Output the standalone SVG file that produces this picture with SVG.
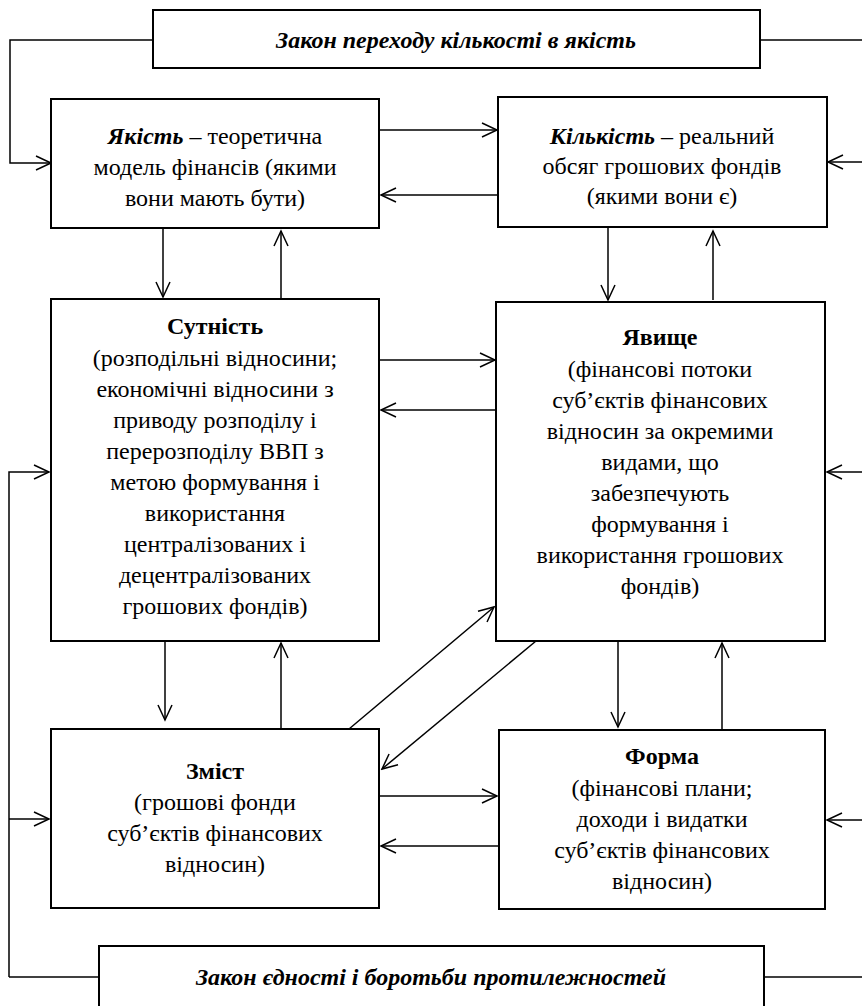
<svg xmlns="http://www.w3.org/2000/svg" width="862" height="1006" viewBox="0 0 862 1006">
<style>
.box{fill:#fff;stroke:#000;stroke-width:2}
.c{fill:none;stroke:#000;stroke-width:1.5}
</style>
<defs>
<marker id="a" markerUnits="userSpaceOnUse" markerWidth="18" markerHeight="18" viewBox="-16 -9 18 18" refX="0" refY="0" orient="auto">
<path d="M-15,-7 L0,0 L-15,7" fill="none" stroke="#000" stroke-width="1.5"/>
</marker>
</defs>
<g id="connectors">
<path class="c" d="M153,40 H10 V163 H51" marker-end="url(#a)"/>
<path class="c" d="M760,40 H862"/>
<path class="c" d="M862,162 H828" marker-end="url(#a)"/>
<path class="c" d="M380,130 H497" marker-end="url(#a)"/>
<path class="c" d="M498,195 H381" marker-end="url(#a)"/>
<path class="c" d="M163,228 V297" marker-end="url(#a)"/>
<path class="c" d="M281,298 V231" marker-end="url(#a)"/>
<path class="c" d="M608,227 V300" marker-end="url(#a)"/>
<path class="c" d="M713,300 V231" marker-end="url(#a)"/>
<path class="c" d="M380,360 H495" marker-end="url(#a)"/>
<path class="c" d="M496,410 H381" marker-end="url(#a)"/>
<path class="c" d="M9,977 V472 H49" marker-end="url(#a)"/>
<path class="c" d="M9,819 H49" marker-end="url(#a)"/>
<path class="c" d="M862,472 H827" marker-end="url(#a)"/>
<path class="c" d="M862,820 H827" marker-end="url(#a)"/>
<path class="c" d="M9,977 H99"/>
<path class="c" d="M764,977 H862"/>
<path class="c" d="M165,641 V720" marker-end="url(#a)"/>
<path class="c" d="M281,728 V643" marker-end="url(#a)"/>
<path class="c" d="M618,641 V727" marker-end="url(#a)"/>
<path class="c" d="M722,730 V643" marker-end="url(#a)"/>
<path class="c" d="M349,729 L494,607" marker-end="url(#a)"/>
<path class="c" d="M536,641 L382,769" marker-end="url(#a)"/>
<path class="c" d="M380,796 H497" marker-end="url(#a)"/>
<path class="c" d="M499,846 H381" marker-end="url(#a)"/>
</g>
<g font-family="Times New Roman, Liberation Serif, DejaVu Serif, serif" font-size="24" text-anchor="middle" fill="#000">
<g id="law1">
<rect class="box" x="153" y="10" width="607" height="58"/>
<text x="456" y="48" font-weight="bold" font-style="italic">Закон переходу кількості в якість</text>
</g>
<g id="yakist">
<rect class="box" x="51" y="99" width="328" height="129"/>
<text x="215" y="144"><tspan font-weight="bold" font-style="italic">Якість</tspan> – теоретична</text>
<text x="215" y="175">модель фінансів (якими</text>
<text x="215" y="206">вони мають бути)</text>
</g>
<g id="kilkist">
<rect class="box" x="498" y="97" width="329" height="130"/>
<text x="662" y="144"><tspan font-weight="bold" font-style="italic">Кількість</tspan> – реальний</text>
<text x="662" y="174">обсяг грошових фондів</text>
<text x="662" y="204">(якими вони є)</text>
</g>
<g id="sutnist">
<rect class="box" x="51" y="299" width="328" height="342"/>
<text x="215" y="334" font-weight="bold">Сутність</text>
<text x="215" y="366">(розподільні відносини;</text>
<text x="215" y="397">економічні відносини з</text>
<text x="215" y="428">приводу розподілу і</text>
<text x="215" y="459">перерозподілу ВВП з</text>
<text x="215" y="490">метою формування і</text>
<text x="215" y="521">використання</text>
<text x="215" y="552">централізованих і</text>
<text x="215" y="583">децентралізованих</text>
<text x="215" y="614">грошових фондів)</text>
</g>
<g id="yavyshche">
<rect class="box" x="496" y="302" width="329" height="339"/>
<text x="660" y="345" font-weight="bold">Явище</text>
<text x="660" y="377">(фінансові потоки</text>
<text x="660" y="408">суб’єктів фінансових</text>
<text x="660" y="439">відносин за окремими</text>
<text x="660" y="470">видами, що</text>
<text x="660" y="501">забезпечують</text>
<text x="660" y="532">формування і</text>
<text x="660" y="563">використання грошових</text>
<text x="660" y="594">фондів)</text>
</g>
<g id="zmist">
<rect class="box" x="51" y="729" width="328" height="179"/>
<text x="215" y="779" font-weight="bold">Зміст</text>
<text x="215" y="810">(грошові фонди</text>
<text x="215" y="841">суб’єктів фінансових</text>
<text x="215" y="872">відносин)</text>
</g>
<g id="forma">
<rect class="box" x="499" y="730" width="326" height="179"/>
<text x="662" y="764" font-weight="bold">Форма</text>
<text x="662" y="796">(фінансові плани;</text>
<text x="662" y="827">доходи і видатки</text>
<text x="662" y="858">суб’єктів фінансових</text>
<text x="662" y="889">відносин)</text>
</g>
<g id="law2">
<rect class="box" x="99" y="946" width="665" height="70"/>
<text x="431" y="985" font-weight="bold" font-style="italic">Закон єдності і боротьби протилежностей</text>
</g>
</g>
</svg>
